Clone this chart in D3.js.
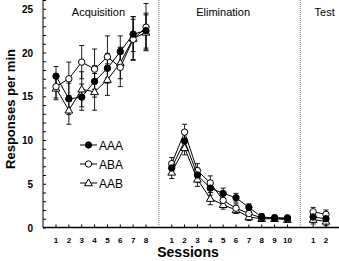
<!DOCTYPE html>
<html>
<head>
<meta charset="utf-8">
<script src="https://cdn.jsdelivr.net/npm/d3@7"></script>
<style>
  body { margin: 0; background: #fff; }
  text { font-family: 'Liberation Sans', Arial, sans-serif; }
</style>
</head>
<body>
<script>
// variables:
var w = 339
var h = 261

// data
var acqSessions = [1, 2, 3, 4, 5, 6, 7, 8]
var elimSessions = [1, 2, 3, 4, 5, 6, 7, 8, 9, 10]
var testSessions = [1, 2]
var yTicks = [0, 5, 10, 15, 20, 25]

var aaaAcq = [17.3, 14.7, 14.9, 16.7, 18.2, 20.1, 22.1, 22.5]
var abaAcq = [16.1, 17.0, 18.9, 18.1, 19.5, 18.3, 21.5, 22.9]
var aabAcq = [15.9, 13.4, 15.8, 15.5, 16.9, 18.8, 21.6, 22.3]
var aaaAcqErr = [1.1, 1.8, 1.5, 1.8, 1.7, 1.8, 2.0, 2.0]
var abaAcqErr = [1.3, 1.9, 1.9, 2.3, 2.4, 2.2, 2.3, 2.7]
var aabAcqErr = [1.3, 1.6, 2.0, 2.1, 1.8, 1.8, 2.5, 2.0]

var aaaElim = [6.8, 9.9, 6.0, 4.5, 3.9, 3.4, 2.3, 1.2, 1.1, 1.1]
var abaElim = [7.3, 10.9, 6.5, 5.1, 3.1, 2.2, 1.6, 1.1, 1.1, 1.0]
var aabElim = [6.3, 9.1, 5.5, 3.3, 2.6, 2.0, 1.2, 1.0, 1.0, 0.9]
var aaaElimErr = [0.7, 0.8, 0.8, 0.8, 0.6, 0.5, 0.4, 0.4, 0.3, 0.3]
var abaElimErr = [0.7, 0.9, 0.8, 0.8, 0.6, 0.5, 0.4, 0.4, 0.3, 0.3]
var aabElimErr = [0.7, 0.8, 0.8, 0.7, 0.5, 0.4, 0.4, 0.3, 0.3, 0.3]

var aaaTest = [1.2, 1.0]
var abaTest = [1.8, 1.5]
var aabTest = [0.9, 0.7]
var testErr = [0.5, 0.5]

var svg = d3.select('body')
  .append('svg')
  .attr('width', w)
  .attr('height', h)

// one continuous position scale: acquisition 0-7, elimination 9-18, test 20-21
var xScale = d3.scaleLinear().domain([0, 21]).range([56, 326])
var yScale = d3.scaleLinear().domain([0, 26]).range([227.5, 0])

function pos (phase, s) {
  if (phase === 'acq') return s - 1
  if (phase === 'elim') return s + 8
  return s + 19
}

// y axis with minor ticks inside
var yAxis = d3.axisRight(yScale)
  .tickValues(d3.range(0, 27, 1))
  .tickSize(3)
  .tickFormat('')
svg.append('g')
  .attr('transform', 'translate(43,0)')
  .call(yAxis)
  .call(function (g) { g.select('.domain').attr('d', 'M0,0V227.5') })

svg.selectAll('.ylab')
  .data(yTicks)
  .enter()
  .append('text')
  .attr('x', 33)
  .attr('y', function (d) { return yScale(d) + 4 })
  .attr('text-anchor', 'end')
  .attr('font-size', '10px')
  .attr('font-weight', 'bold')
  .text(function (d) { return d })

// x axis line
svg.append('line')
  .attr('x1', 43).attr('x2', w)
  .attr('y1', 227.5).attr('y2', 227.5)
  .attr('stroke', '#000')
  .attr('stroke-width', 1.3)

var allTicks = acqSessions.map(function (s) { return { k: pos('acq', s), s: s } })
  .concat(elimSessions.map(function (s) { return { k: pos('elim', s), s: s } }))
  .concat(testSessions.map(function (s) { return { k: pos('test', s), s: s } }))

svg.selectAll('.xtick')
  .data(allTicks)
  .enter()
  .append('line')
  .attr('x1', function (d) { return xScale(d.k) })
  .attr('x2', function (d) { return xScale(d.k) })
  .attr('y1', 227.5).attr('y2', 224.5)
  .attr('stroke', '#000')

svg.selectAll('.xlab')
  .data(allTicks)
  .enter()
  .append('text')
  .attr('x', function (d) { return xScale(d.k) })
  .attr('y', 243)
  .attr('text-anchor', 'middle')
  .attr('font-size', '8px')
  .attr('font-weight', 'bold')
  .text(function (d) { return d.s })

// phase dividers
svg.selectAll('.divider')
  .data([8, 19])
  .enter()
  .append('line')
  .attr('x1', function (d) { return xScale(d) })
  .attr('x2', function (d) { return xScale(d) })
  .attr('y1', 0).attr('y2', 227)
  .attr('stroke', '#777')
  .attr('stroke-dasharray', '1,1')

// phase titles
svg.selectAll('.phase')
  .data([['Acquisition', 3.3], ['Elimination', 13], ['Test', 20.9]])
  .enter()
  .append('text')
  .attr('x', function (d) { return xScale(d[1]) })
  .attr('y', 16)
  .attr('text-anchor', 'middle')
  .attr('font-size', '11px')
  .text(function (d) { return d[0] })

// axis titles
svg.append('text')
  .attr('x', 188)
  .attr('y', 257)
  .attr('text-anchor', 'middle')
  .attr('font-size', '14px')
  .attr('font-weight', 'bold')
  .text('Sessions')

svg.append('text')
  .attr('transform', 'translate(15,109) rotate(-90)')
  .attr('text-anchor', 'middle')
  .attr('font-size', '13px')
  .attr('font-weight', 'bold')
  .text('Responses per min')

// build series
function build (phase, sessions, vals, errs) {
  return sessions.map(function (s, i) {
    return { k: pos(phase, s), v: vals[i], e: errs[i] }
  })
}

var series = [
  { name: 'AAB', shape: 'triangle',
    segs: [build('acq', acqSessions, aabAcq, aabAcqErr), build('elim', elimSessions, aabElim, aabElimErr), build('test', testSessions, aabTest, testErr)] },
  { name: 'ABA', shape: 'open',
    segs: [build('acq', acqSessions, abaAcq, abaAcqErr), build('elim', elimSessions, abaElim, abaElimErr), build('test', testSessions, abaTest, testErr)] },
  { name: 'AAA', shape: 'filled',
    segs: [build('acq', acqSessions, aaaAcq, aaaAcqErr), build('elim', elimSessions, aaaElim, aaaElimErr), build('test', testSessions, aaaTest, testErr)] }
]

var line = d3.line()
  .x(function (d) { return xScale(d.k) })
  .y(function (d) { return yScale(d.v) })

var triSym = d3.symbol().type(d3.symbolTriangle).size(26)

function drawMarker (g, shape, x, y) {
  if (shape === 'triangle') {
    g.append('path')
      .attr('d', triSym())
      .attr('transform', 'translate(' + x + ',' + (y + 0.5) + ')')
      .attr('fill', '#fff')
      .attr('stroke', '#000')
      .attr('stroke-width', 1)
  } else {
    g.append('circle')
      .attr('cx', x).attr('cy', y).attr('r', 3.2)
      .attr('fill', shape === 'filled' ? '#000' : '#fff')
      .attr('stroke', '#000')
      .attr('stroke-width', 1)
  }
}

// error bars first
series.forEach(function (sr) {
  sr.segs.forEach(function (seg) {
    var g = svg.append('g')
    seg.forEach(function (d) {
      var x = xScale(d.k)
      g.append('line')
        .attr('x1', x).attr('x2', x)
        .attr('y1', yScale(d.v - d.e)).attr('y2', yScale(d.v + d.e))
        .attr('stroke', '#000').attr('stroke-width', 0.9)
      ;[d.v - d.e, d.v + d.e].forEach(function (v) {
        g.append('line')
          .attr('x1', x - 2.5).attr('x2', x + 2.5)
          .attr('y1', yScale(v)).attr('y2', yScale(v))
          .attr('stroke', '#000').attr('stroke-width', 0.9)
      })
    })
  })
})

// lines and markers
series.forEach(function (sr) {
  sr.segs.forEach(function (seg) {
    svg.append('path')
      .datum(seg)
      .attr('d', line)
      .attr('fill', 'none')
      .attr('stroke', '#000')
      .attr('stroke-width', 1)
    var g = svg.append('g')
    seg.forEach(function (d) {
      drawMarker(g, sr.shape, xScale(d.k), yScale(d.v))
    })
  })
})

// legend
var legend = [['AAA', 'filled', 145], ['ABA', 'open', 164], ['AAB', 'triangle', 183]]
legend.forEach(function (d) {
  var g = svg.append('g')
  g.append('line')
    .attr('x1', 80).attr('x2', 97)
    .attr('y1', d[2]).attr('y2', d[2])
    .attr('stroke', '#000')
  drawMarker(g, d[1], 88.5, d[2])
  g.append('text')
    .attr('x', 99)
    .attr('y', d[2] + 4.5)
    .attr('font-size', '12px')
    .text(d[0])
})
</script>
</body>
</html>
